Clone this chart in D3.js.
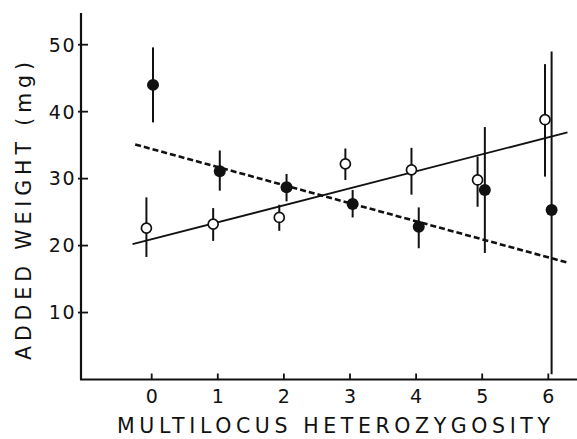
<!DOCTYPE html>
<html><head><meta charset="utf-8">
<script src="https://cdn.jsdelivr.net/npm/d3@7"></script>
<style>body{margin:0;background:#fff}svg{display:block}text{font-family:"DejaVu Sans",sans-serif;fill:#111}</style>
</head><body><svg id="c" width="577" height="439"></svg>
<script>
// Open circles (solid regression line)
const openX = [-0.08, 0.93, 1.93, 2.93, 3.93, 4.93, 5.95];
const openY = [22.6, 23.2, 24.2, 32.2, 31.3, 29.8, 38.8];
const openLo = [18.3, 20.7, 22.2, 29.8, 27.6, 25.8, 30.3];
const openHi = [27.2, 25.6, 26.1, 34.5, 34.6, 33.3, 47.1];
// Filled circles (dashed regression line)
const fillX = [0.02, 1.03, 2.04, 3.04, 4.04, 5.04, 6.05];
const fillY = [44.0, 31.1, 28.7, 26.2, 22.8, 28.3, 25.3];
const fillLo = [38.4, 28.2, 26.6, 24.2, 19.6, 18.9, 0.8];
const fillHi = [49.6, 34.2, 30.7, 28.3, 25.7, 37.7, 49.0];
// Regression lines endpoints [x, y]
const solidLine = [[-0.29, 20.2], [6.29, 36.9]];
const dashedLine = [[-0.25, 35.1], [6.31, 17.4]];
const xTicks = [0, 1, 2, 3, 4, 5, 6];
const yTicks = [10, 20, 30, 40, 50];
const xTitle = "MULTILOCUS HETEROZYGOSITY";
const yTitle = "ADDED WEIGHT (mg)";

const svg = d3.select("#c");
const x = d3.scaleLinear().domain([0, 6]).range([151.7, 548.3]);
const y = d3.scaleLinear().domain([0, 50]).range([379.5, 44.7]);
const x0 = 81, xEnd = 577, yTop = 13;

// axes lines
svg.append("line").attr("x1", x0).attr("x2", x0).attr("y1", yTop).attr("y2", y(0))
  .attr("stroke", "#111").attr("stroke-width", 2.2);
svg.append("line").attr("x1", x0 - 1).attr("x2", xEnd).attr("y1", y(0)).attr("y2", y(0))
  .attr("stroke", "#111").attr("stroke-width", 2.2);

// y ticks
const gy = svg.append("g");
yTicks.forEach(t => {
  gy.append("line").attr("x1", x0 - 3).attr("x2", x0 + 7).attr("y1", y(t)).attr("y2", y(t))
    .attr("stroke", "#111").attr("stroke-width", 1.8);
  gy.append("text").attr("x", 76).attr("y", y(t)).attr("dy", "0.36em")
    .attr("text-anchor", "end").attr("font-size", 19).attr("letter-spacing", 1.5).text(t);
});
// x ticks
xTicks.forEach(t => {
  svg.append("line").attr("x1", x(t)).attr("x2", x(t)).attr("y1", y(0)).attr("y2", y(0) - 6)
    .attr("stroke", "#111").attr("stroke-width", 1.8);
  svg.append("text").attr("x", x(t)).attr("y", 403).attr("text-anchor", "middle")
    .attr("font-size", 19).text(t);
});

// titles
svg.append("text").attr("x", 117).attr("y", 433)
  .attr("font-size", 20.5).attr("textLength", 433).attr("lengthAdjust", "spacing").text(xTitle);
svg.append("text").attr("transform", "translate(31,360) rotate(-90)")
  .attr("font-size", 20.5).attr("textLength", 298).attr("lengthAdjust", "spacing").text(yTitle);

const line = d3.line().x(d => x(d[0])).y(d => y(d[1]));
svg.append("path").attr("d", line(solidLine)).attr("stroke", "#111").attr("stroke-width", 1.8).attr("fill", "none");
svg.append("path").attr("d", line(dashedLine)).attr("stroke", "#111").attr("stroke-width", 2.6)
  .attr("stroke-dasharray", "6,3").attr("fill", "none");

// error bars
openX.forEach((v, i) => {
  svg.append("line").attr("x1", x(v)).attr("x2", x(v)).attr("y1", y(openLo[i])).attr("y2", y(openHi[i]))
    .attr("stroke", "#111").attr("stroke-width", 2);
});
fillX.forEach((v, i) => {
  svg.append("line").attr("x1", x(v)).attr("x2", x(v)).attr("y1", y(fillLo[i])).attr("y2", y(fillHi[i]))
    .attr("stroke", "#111").attr("stroke-width", 2);
});
// markers
openX.forEach((v, i) => {
  svg.append("circle").attr("cx", x(v)).attr("cy", y(openY[i])).attr("r", 5)
    .attr("fill", "#fff").attr("stroke", "#111").attr("stroke-width", 1.7);
});
fillX.forEach((v, i) => {
  svg.append("circle").attr("cx", x(v)).attr("cy", y(fillY[i])).attr("r", 6).attr("fill", "#111");
});
</script></body></html>
